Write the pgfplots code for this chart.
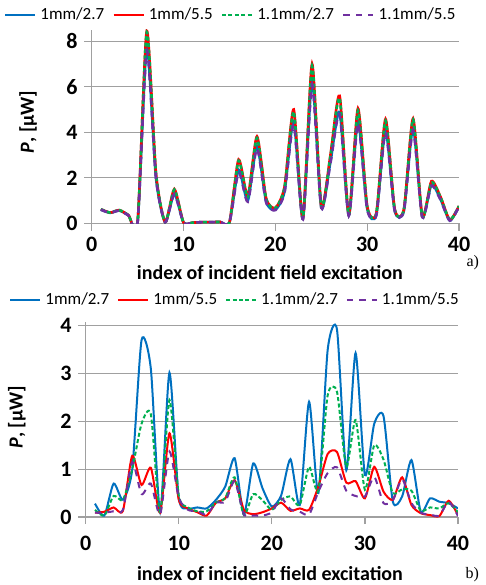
\documentclass[border=0pt]{standalone}
\usepackage{fontspec}
\setmainfont{Carlito}
\newfontfamily\serif{Liberation Serif}
\usepackage{pgfplots}
\usepackage{pgfplotstable}
\pgfplotsset{compat=1.18}

\definecolor{xlblue}{RGB}{0,112,192}
\definecolor{xlred}{RGB}{255,0,0}
\definecolor{xlgreen}{RGB}{0,176,80}
\definecolor{xlpurple}{RGB}{112,48,160}
\definecolor{gridgray}{RGB}{160,160,160}

% a) columns: x, 1mm/2.7, 1mm/5.5, 1.1mm/2.7, 1.1mm/5.5
\pgfplotstableread{
x  b     r     g     p
1  0.60  0.62  0.62  0.60
2  0.46  0.47  0.47  0.46
3  0.56  0.58  0.58  0.56
4  0.35  0.36  0.36  0.35
5  0.05  0.05  0.05  0.05
6  7.75  8.45  8.40  7.60
7  2.00  2.20  2.20  2.00
8  0.05  0.05  0.05  0.05
9  1.30  1.50  1.48  1.28
10 0.03  0.03  0.03  0.03
11 0.03  0.03  0.03  0.03
12 0.05  0.05  0.05  0.05
13 0.05  0.05  0.05  0.05
14 0.06  0.06  0.06  0.06
15 0.04  0.04  0.04  0.04
16 2.35  2.80  2.75  2.25
17 1.00  1.20  1.18  0.95
18 3.40  3.82  3.75  3.30
19 0.95  1.10  1.08  0.92
20 0.60  0.68  0.67  0.58
21 1.40  1.60  1.58  1.35
22 4.50  5.00  4.90  4.35
23 0.20  0.22  0.22  0.18
24 6.30  7.00  6.90  6.10
25 0.70  0.75  0.75  0.68
26 2.70  3.00  2.95  2.65
27 4.90  5.60  5.50  4.80
28 0.35  0.38  0.38  0.34
29 4.50  5.05  4.95  4.40
30 0.65  0.75  0.73  0.62
31 0.38  0.45  0.44  0.36
32 4.10  4.58  4.50  4.00
33 0.55  0.62  0.61  0.55
34 0.55  0.62  0.61  0.55
35 4.20  4.60  4.55  4.10
36 0.28  0.30  0.30  0.27
37 1.70  1.85  1.80  1.65
38 1.05  1.15  1.13  1.02
39 0.12  0.15  0.15  0.12
40 0.74  0.76  0.76  0.74
}\tableA

% b)
\pgfplotstableread{
x  b     r     g     p
1  0.28  0.09  0.15  0.09
2  0.03  0.11  0.03  0.09
3  0.70  0.20  0.44  0.12
4  0.36  0.13  0.36  0.15
5  1.00  1.28  1.00  1.15
6  3.70  0.67  1.95  0.48
7  3.10  1.03  2.15  0.70
8  0.10  0.09  0.08  0.05
9  3.02  1.75  2.45  1.37
10 0.40  0.36  0.45  0.40
11 0.18  0.18  0.20  0.15
12 0.20  0.10  0.12  0.12
13 0.18  0.03  0.12  0.05
14 0.36  0.30  0.30  0.30
15 0.64  0.39  0.40  0.32
16 1.23  0.77  0.83  0.75
17 0.05  0.15  0.04  0.05
18 1.12  0.06  0.48  0.03
19 0.60  0.10  0.35  0.03
20 0.22  0.18  0.15  0.10
21 0.45  0.30  0.36  0.39
22 1.21  0.13  0.43  0.16
23 0.25  0.18  0.25  0.11
24 2.41  0.15  1.05  0.05
25 0.50  0.64  0.55  0.53
26 3.50  1.32  2.55  0.92
27 3.92  1.36  2.62  1.04
28 0.98  0.72  1.05  0.55
29 3.43  0.75  2.03  0.44
30 0.88  0.39  0.57  0.43
31 1.95  1.05  1.50  0.84
32 2.11  0.53  1.20  0.29
33 0.32  0.36  0.50  0.35
34 0.43  0.83  0.58  0.79
35 1.19  0.25  0.55  0.29
36 0.11  0.08  0.13  0.09
37 0.39  0.04  0.20  0.05
38 0.32  0.02  0.18  0.03
39 0.29  0.34  0.29  0.32
40 0.18  0.04  0.10  0.02
}\tableB

\pgfplotsset{
  xlchart/.style={
    scale only axis,
    axis x line*=bottom, axis y line*=left,
    axis line style={draw=gridgray, line width=0.6pt, -},
    xmin=0, xmax=40, xtick={0,10,...,40},
    ymajorgrids, grid style={gridgray, line width=0.6pt},
    tick style={gridgray, line width=0.6pt},
    tick align=outside, major tick length=3.6pt,
    /pgf/number format/assume math mode=true,
    tick label style={font=\fontsize{11}{11}\selectfont\bfseries},
    label style={font=\fontsize{10}{12}\selectfont\bfseries},
    legend columns=4,
    legend cell align=left,
    legend style={draw=none, fill=none, anchor=center,
      font=\fontsize{8.5}{10}\selectfont\mdseries,
      /tikz/every even column/.append style={column sep=2pt}},
    legend image code/.code={\draw[##1] (0pt,0pt) -- (15pt,0pt);},
  },
  sb/.style={xlblue, line width=#1, smooth, tension=0.4},
  sr/.style={xlred, line width=#1, smooth, tension=0.4},
  sg/.style={xlgreen, line width=#1, dash pattern=on 2pt off 1.2pt, smooth, tension=0.4},
  sp/.style={xlpurple, line width=#1, dash pattern=on 3.2pt off 3pt, smooth, tension=0.4},
}

\begin{document}
\begin{tikzpicture}
\path[use as bounding box] (0,0) rectangle (243pt,-292.5pt);

\begin{axis}[xlchart,
  at={(45.85pt,-111.65pt)}, anchor=south west,
  width=183.65pt, height=96.7pt,
  ymin=0, ymax=8.5, ytick={0,2,...,8},
  xlabel={index of incident field excitation},
  ylabel={\textit{P}, [μW]},
  xlabel style={at={(rel axis cs:0.485,-0.252)}, anchor=center},
  ylabel style={at={(rel axis cs:-0.173,0.524)}, anchor=center},
  legend style={at={(0.381,1.078)}},
]
  \addplot[sb=1.3pt] table[x=x, y=b] {\tableA};
  \addlegendentry{1mm/2.7}
  \addplot[sr=1.3pt] table[x=x, y=r] {\tableA};
  \addlegendentry{1mm/5.5}
  \addplot[sg=1.3pt] table[x=x, y=g] {\tableA};
  \addlegendentry{1.1mm/2.7}
  \addplot[sp=1.3pt] table[x=x, y=p] {\tableA};
  \addlegendentry{1.1mm/5.5}
\end{axis}

\begin{axis}[xlchart,
  at={(42.85pt,-258.5pt)}, anchor=south west,
  width=186.15pt, height=97.5pt,
  ymin=0, ymax=4.08, ytick={0,1,...,4},
  xticklabel style={yshift=-2.5pt},
  xlabel={index of incident field excitation},
  ylabel={\textit{P}, [μW]},
  xlabel style={at={(rel axis cs:0.495,-0.292)}, anchor=center, yshift=0pt},
  ylabel style={at={(rel axis cs:-0.185,0.513)}, anchor=center},
  legend style={at={(0.404,1.113)}},
]
  \addplot[sb=1pt] table[x=x, y=b] {\tableB};
  \addlegendentry{1mm/2.7}
  \addplot[sr=1pt] table[x=x, y=r] {\tableB};
  \addlegendentry{1mm/5.5}
  \addplot[sg=1pt] table[x=x, y=g] {\tableB};
  \addlegendentry{1.1mm/2.7}
  \addplot[sp=1pt] table[x=x, y=p] {\tableB};
  \addlegendentry{1.1mm/5.5}
\end{axis}

\node[anchor=east, font=\serif\fontsize{8}{8}\selectfont] at (243pt,-131.5pt) {a)};
\node[anchor=east, font=\serif\fontsize{8}{8}\selectfont] at (243pt,-287.5pt) {b)};
\end{tikzpicture}
\end{document}
